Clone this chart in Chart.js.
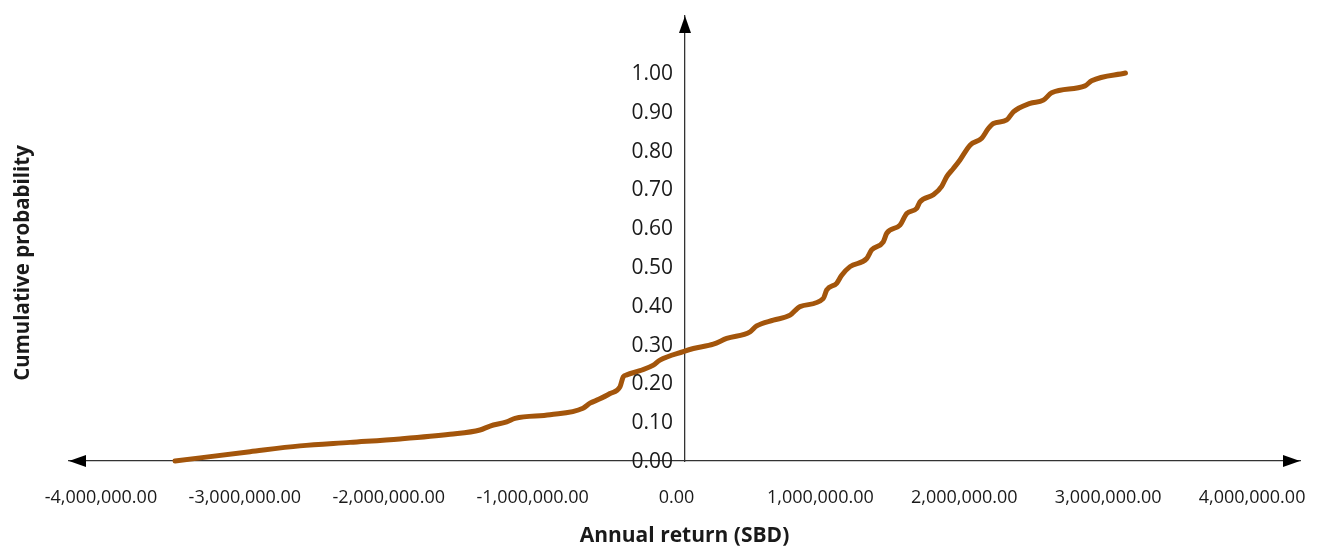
<!DOCTYPE html>
<html>
<head>
<meta charset="utf-8">
<title>Cumulative probability of annual return</title>
<script src="https://cdn.jsdelivr.net/npm/chart.js@4/dist/chart.umd.min.js"></script>
<style>
  html, body { margin: 0; padding: 0; background: #ffffff; }
  #wrap { width: 1327px; height: 551px; }
</style>
</head>
<body>
<div id="wrap"><canvas id="cdf" width="1327" height="551"></canvas></div>
<script>
// Annual return (SBD) for each point of the cumulative distribution
const RETURNS = [
  -3485000, -2964000, -2617000, -2269000, -1922000, -1574000, -1366000, -1296000,
  -1180000, -1122000, -879000, -650000, -601000, -540000, -462000, -393000,
  -370000, -346000, -254000, -161000, -115000, 47000, 117000, 256000,
  349000, 511000, 557000, 673000, 789000, 858000, 1020000, 1044000,
  1113000, 1148000, 1206000, 1322000, 1356000, 1437000, 1461000, 1553000,
  1600000, 1669000, 1692000, 1785000, 1843000, 1878000, 1924000, 1970000,
  2040000, 2121000, 2167000, 2202000, 2295000, 2341000, 2457000, 2549000,
  2607000, 2839000, 2885000, 3120000
];

// Cumulative probability at each return
const CUM_PROB = [
  0.000, 0.024, 0.039, 0.048, 0.057, 0.069, 0.080, 0.090,
  0.101, 0.110, 0.119, 0.136, 0.149, 0.159, 0.174, 0.191,
  0.217, 0.222, 0.233, 0.247, 0.260, 0.282, 0.290, 0.301,
  0.316, 0.333, 0.348, 0.363, 0.376, 0.398, 0.419, 0.441,
  0.458, 0.479, 0.501, 0.522, 0.544, 0.565, 0.587, 0.608,
  0.638, 0.651, 0.668, 0.686, 0.708, 0.733, 0.754, 0.776,
  0.814, 0.832, 0.857, 0.870, 0.879, 0.900, 0.922, 0.930,
  0.949, 0.967, 0.980, 1.000
];

// Tick values for both axes
const X_TICKS = [-4000000, -3000000, -2000000, -1000000, 0, 1000000, 2000000, 3000000, 4000000];
const Y_TICKS = [0, 0.1, 0.2, 0.3, 0.4, 0.5, 0.6, 0.7, 0.8, 0.9, 1.0];

// Axis extents (the arrows sit at the ends) and where the vertical axis crosses
const X_RANGE = [-4222000, 4333000];
const Y_RANGE = [0, 1.147];
const Y_AXIS_CROSS = 59000;

const X_TITLE = 'Annual return (SBD)';
const Y_TITLE = 'Cumulative probability';

const FONT = '"Open Sans", "Noto Sans", "DejaVu Sans", sans-serif';
const INK = '#1a1a1a';
const AXIS = '#333333';
const LINE = '#A3550B';

const points = RETURNS.map((x, i) => ({ x, y: CUM_PROB[i] }));

const fmtMoney = v => Number(v).toLocaleString('en-US', { minimumFractionDigits: 2, maximumFractionDigits: 2 });

// Arrowheads, vertical-axis tick labels and both axis titles
const axisDecor = {
  id: 'axisDecor',
  afterDraw(chart) {
    const { ctx, chartArea, scales } = chart;
    const xs = scales.x, ys = scales.y;
    const axisX = xs.getPixelForValue(Y_AXIS_CROSS);
    const axisY = ys.getPixelForValue(0);
    ctx.save();

    // arrowheads
    ctx.fillStyle = '#000000';
    const len = 17, half = 6;
    ctx.beginPath();
    ctx.moveTo(chartArea.left, axisY);
    ctx.lineTo(chartArea.left + len, axisY - half);
    ctx.lineTo(chartArea.left + len, axisY + half);
    ctx.closePath(); ctx.fill();
    ctx.beginPath();
    ctx.moveTo(chartArea.right, axisY);
    ctx.lineTo(chartArea.right - len, axisY - half);
    ctx.lineTo(chartArea.right - len, axisY + half);
    ctx.closePath(); ctx.fill();
    ctx.beginPath();
    ctx.moveTo(axisX, chartArea.top);
    ctx.lineTo(axisX - half, chartArea.top + len);
    ctx.lineTo(axisX + half, chartArea.top + len);
    ctx.closePath(); ctx.fill();

    // vertical axis tick labels, set just left of the axis line
    ctx.fillStyle = INK;
    ctx.font = '21px ' + FONT;
    ctx.textAlign = 'right';
    ctx.textBaseline = 'middle';
    ys.ticks.forEach(t => {
      ctx.fillText(Number(t.value).toFixed(2), axisX - 12, ys.getPixelForValue(t.value) + 1);
    });

    // x title, centred under the full axis span
    ctx.font = 'bold 21px ' + FONT;
    ctx.textAlign = 'center';
    ctx.fillText(X_TITLE, (chartArea.left + chartArea.right) / 2, 536);

    // y title
    ctx.font = 'bold 20.5px ' + FONT;
    ctx.translate(23, 263);
    ctx.rotate(-Math.PI / 2);
    ctx.fillText(Y_TITLE, 0, 0);
    ctx.restore();
  }
};

new Chart(document.getElementById('cdf'), {
  type: 'line',
  data: {
    datasets: [{
      data: points,
      borderColor: LINE,
      borderWidth: 5,
      pointRadius: 0,
      fill: false,
      cubicInterpolationMode: 'monotone',
      borderCapStyle: 'round',
      borderJoinStyle: 'round'
    }]
  },
  options: {
    responsive: false,
    animation: false,
    clip: false,
    layout: { padding: { left: 69, right: 27, top: 16, bottom: 16.4 } },
    plugins: { legend: { display: false }, tooltip: { enabled: false } },
    scales: {
      x: {
        type: 'linear',
        position: 'bottom',
        min: X_RANGE[0],
        max: X_RANGE[1],
        afterBuildTicks: s => { s.ticks = X_TICKS.map(v => ({ value: v })); },
        // end labels may overhang the axis ends; the layout padding already leaves room
        afterFit: s => { s.paddingLeft = 0; s.paddingRight = 0; },
        grid: { display: false, drawTicks: false },
        border: { display: true, color: AXIS, width: 1.3 },
        ticks: {
          padding: 26,
          color: INK,
          font: { family: FONT, size: 18 },
          maxRotation: 0,
          autoSkip: false,
          callback: v => fmtMoney(v)
        },
        title: { display: false }
      },
      y: {
        type: 'linear',
        position: { x: Y_AXIS_CROSS },
        min: Y_RANGE[0],
        max: Y_RANGE[1],
        afterBuildTicks: s => { s.ticks = Y_TICKS.map(v => ({ value: v })); },
        grid: { display: false, drawTicks: false },
        border: { display: true, color: AXIS, width: 1.3 },
        ticks: { display: false }
      }
    }
  },
  plugins: [axisDecor]
});
</script>
</body>
</html>
